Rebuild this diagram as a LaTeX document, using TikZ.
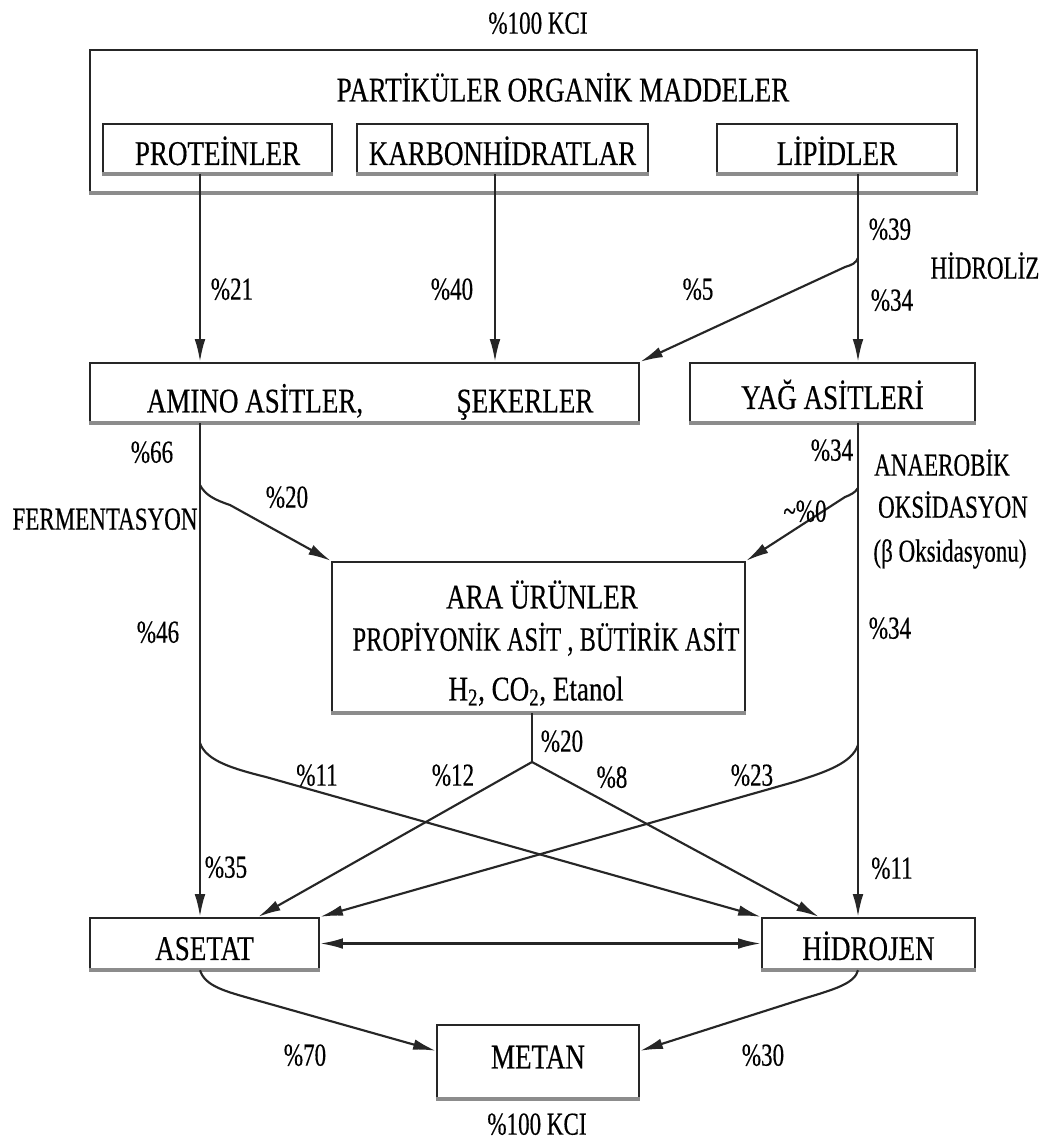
\documentclass[tikz,border=0pt]{standalone}
\usepackage{fontspec}
\setmainfont[FakeStretch=0.78,FakeBold=0.4]{Liberation Serif}
\newfontfamily\pctfont[FakeStretch=0.72,FakeBold=0.4]{Liberation Serif}
\usetikzlibrary{arrows.meta,calc}

\begin{document}
\begin{tikzpicture}[x=0.75pt,y=-0.75pt,
  font=\fontsize{26}{30}\selectfont,
  box/.style={draw=black!85, line width=1.8pt, inner sep=0pt, text height=24.7pt, text depth=0pt},
  boxfoot/.style={draw=black!45, line width=2.6pt},
  flow/.style={draw=black!85, line width=1.6pt},
  tipstyle/.style={-{Latex[length=17pt,width=8pt]}},
  arr/.style={flow, tipstyle},
  dbl/.style={flow, {Latex[length=17pt,width=8pt]}-{Latex[length=17pt,width=8pt]}},
  lbl/.style={inner sep=0pt, text height=17.2pt, text depth=0pt},
  pct/.style={inner sep=0pt, text height=16pt, text depth=0pt, font=\pctfont\fontsize{24}{29}\selectfont},
]
% page
\fill[white] (0,0) rectangle (1042,1142);
\path[use as bounding box] (0,0) rectangle (1042,1142);

% ---- boxes ----
\node[box, minimum width=665.25pt, minimum height=106.5pt] (outer) at (533.5,121) {};
\node[lbl] (title) at (563,90) {PARTİKÜLER ORGANİK MADDELER};
\node[box, minimum width=171.75pt, minimum height=36.75pt] (prot) at (217.5,148.5) {PROTEİNLER};
\node[box, minimum width=218.25pt, minimum height=36.75pt] (karb) at (502.5,148.5) {KARBONHİDRATLAR};
\node[box, minimum width=180pt, minimum height=36.75pt] (lip) at (837,148.5) {LİPİDLER};

\node[box, minimum width=411.75pt, minimum height=44.25pt] (amino) at (364.5,392.5) {};
\node[lbl] (aminotxt) at (255,401) {AMINO ASİTLER,};
\node[lbl] (sekertxt) at (525,401) {ŞEKERLER};
\node[box, minimum width=213.75pt, minimum height=44.25pt] (yag) at (832.5,392.5) {YAĞ ASİTLERİ};

\node[box, minimum width=309.75pt, minimum height=112.5pt] (ara) at (538.5,637) {};
\node[lbl] (aratxt1) at (542,597) {ARA ÜRÜNLER};
\node[pct, font=\pctfont\fontsize{25.5}{30}\selectfont] (aratxt2) at (546,640) {PROPİYONİK ASİT , BÜTİRİK ASİT};
\node[lbl] (aratxt3) at (536,689) {H\textsubscript{2}, CO\textsubscript{2}, Etanol};

\node[box, minimum width=171.75pt, minimum height=38.25pt] (aset) at (204.5,943.5) {ASETAT};
\node[box, minimum width=159.75pt, minimum height=38.25pt] (hid) at (868.5,943.5) {HİDROJEN};
\node[box, minimum width=151.5pt, minimum height=54.75pt, text height=10.4pt] (metan) at (538,1061.5) {METAN};

% grey foot under every box
\foreach \b in {outer,prot,karb,lip,amino,yag,ara,aset,hid,metan}
  \draw[boxfoot] (\b.south west) -- (\b.south east);

% ---- columns and branch points ----
\coordinate (colL) at (200,0);
\coordinate (colK) at (495,0);
\coordinate (colR) at (858,0);
\coordinate (colM) at (532,0);
\coordinate (lipSplit) at (858,258);
\coordinate (ferSplit) at (200,485);
\coordinate (oxSplit) at (858,488);
\coordinate (lowL) at (200,743);
\coordinate (lowR) at (858,745);
\coordinate (araJoin) at (532,762);

% ---- hydrolysis ----
\draw[arr] (prot.south -| colL) -- (amino.north -| colL);
\draw[arr] (karb.south -| colK) -- (amino.north -| colK);
\draw[arr] (lip.south -| colR) -- (yag.north -| colR);
\draw[arr] (lipSplit) .. controls ($(lipSplit)+(-2,5)$) and ($(lipSplit)+(-6,7)$) .. ($(lipSplit)+(-13,9)$) -- (amino.north east);

% ---- fermentation / oxidation ----
\draw[arr] (amino.south -| colL) -- (aset.north -| colL);
\draw[arr] (yag.south -| colR) -- (hid.north -| colR);
\draw[arr] (ferSplit) .. controls ($(ferSplit)+(5,10)$) and ($(ferSplit)+(15,15)$) .. ($(ferSplit)+(30,20)$) -- (ara.north west);
\draw[arr] (oxSplit) .. controls ($(oxSplit)+(-3,5)$) and ($(oxSplit)+(-8,7)$) .. ($(oxSplit)+(-13,9)$) -- (ara.north east);
\draw[arr] (lowL) .. controls ($(lowL)+(6,18)$) and ($(lowL)+(34,26)$) .. ($(lowL)+(66,34)$) -- (hid.north west);
\draw[arr] (lowR) .. controls ($(lowR)+(-6,18)$) and ($(lowR)+(-32,27)$) .. ($(lowR)+(-64,37)$) -- (aset.north east);

% ---- intermediates ----
\draw[flow] (ara.south -| colM) -- (araJoin);
\draw[arr] (araJoin) -- ($(aset.north east)+(-62,0)$);
\draw[arr] (araJoin) -- ($(hid.north west)+(58,0)$);

% ---- acetate / hydrogen / methane ----
\draw[dbl] (aset.east) -- (hid.west);
\coordinate (asetFoot) at (aset.south -| colL);
\coordinate (hidFoot) at (hid.south -| colR);
\draw[arr] (asetFoot) .. controls ($(asetFoot)+(5,16)$) and ($(asetFoot)+(25,21)$) .. ($(asetFoot)+(53,29)$) -- (metan.174);
\draw[arr] (hidFoot) .. controls ($(hidFoot)+(-3,13)$) and ($(hidFoot)+(-23,19)$) .. ($(hidFoot)+(-53,28)$) -- (metan.6);

% ---- labels ----
\node[pct] (kciTop) at (538,23) {\%100 KCI};
\node[pct] (kciBot) at (537,1124) {\%100 KCI};
\node[pct] (p21) at (232,289) {\%21};
\node[pct] (p40) at (452,289) {\%40};
\node[pct] (p5) at (698,289) {\%5};
\node[pct] (p39) at (890,229) {\%39};
\node[pct] (p34a) at (892,300) {\%34};
\node[pct] (hidroliz) at (985,268) {HİDROLİZ};
\node[pct] (p66) at (152,452) {\%66};
\node[pct] (p34b) at (832,450) {\%34};
\node[pct] (ferm) at (105,519) {FERMENTASYON};
\node[pct] (p20a) at (287,497) {\%20};
\node[pct] (anaer) at (942,465) {ANAEROBİK};
\node[pct] (oksi) at (953,507) {OKSİDASYON};
\node[pct] (beta) at (950,551) {(β Oksidasyonu)};
\node[pct] (p0) at (805,511) {\textasciitilde\%0};
\node[pct] (p46) at (158,632) {\%46};
\node[pct] (p34c) at (890,628) {\%34};
\node[pct] (p20b) at (562,741) {\%20};
\node[pct] (p11a) at (317,775) {\%11};
\node[pct] (p12) at (453,775) {\%12};
\node[pct] (p8) at (612,777) {\%8};
\node[pct] (p23) at (752,775) {\%23};
\node[pct] (p35) at (226,867) {\%35};
\node[pct] (p11b) at (892,868) {\%11};
\node[pct] (p70) at (305,1055) {\%70};
\node[pct] (p30) at (763,1055) {\%30};
\end{tikzpicture}
\end{document}
